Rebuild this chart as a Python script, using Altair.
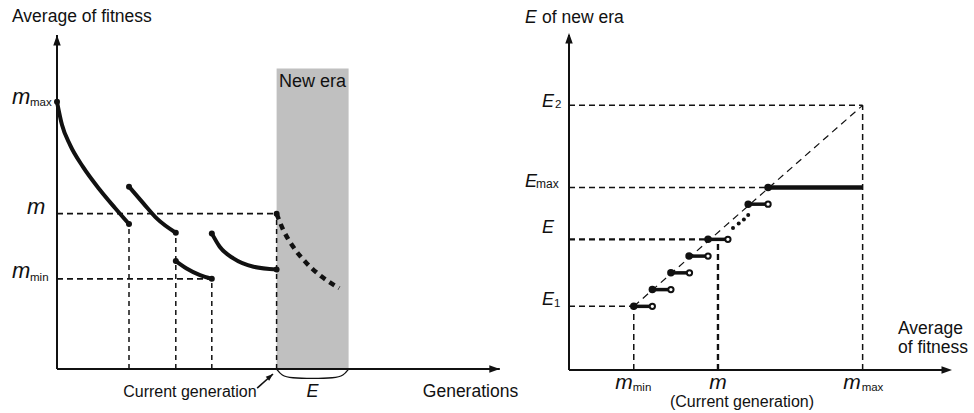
import altair as alt
import pandas as pd

FONT = "Liberation Sans"
INK = "#111111"

# ---------------- left panel: average fitness over generations ----------------
current_gen = 30.5          # generation at which the new era begins
new_era_end = 40.5
gen_axis_end = 61.5
m_max, m_cur, m_min = 0.8, 0.465, 0.27
new_era_top = 0.9

era1_gen = [0, 0.69, 1.81, 3.61, 5.97, 8.06, 10]
era1_fit = [0.8, 0.731, 0.671, 0.605, 0.536, 0.482, 0.434]
era2_gen = [10, 12, 13.85, 16.5]
era2_fit = [0.546, 0.496, 0.451, 0.408]
era3_gen = [16.5, 18, 19.86, 21.5]
era3_fit = [0.323, 0.301, 0.281, 0.27]
era4_gen = [21.5, 22.6, 24.5, 27.3, 30.5]
era4_fit = [0.406, 0.366, 0.331, 0.306, 0.298]
next_gen = [30.5, 31.43, 32.8, 34.7, 36.8, 39.2]
next_fit = [0.465, 0.416, 0.366, 0.316, 0.276, 0.242]

# bracket under the new era
brace_gen = [30.5, 31.2, 32.5, 35.5, 38.5, 39.8, 40.5]
brace_depth = [0, -0.02, -0.027, -0.029, -0.027, -0.02, 0]

# pointer to the current generation
pointer_tail = (27.8, -0.057)
pointer_tip = (30.0, -0.015)

# ---------------- right panel: era length E versus average fitness ----------------
fit_axis_start, fit_axis_end = 0.12, 1.0
E1, E_cur, E_max, E2 = 19, 39, 54.5, 79
E_axis_end = 100

step_E = [19, 24, 29, 34, 39, 49.5]
step_from = [0.27, 0.313, 0.356, 0.398, 0.442, 0.535]
step_to = [0.313, 0.356, 0.399, 0.442, 0.488, 0.581]
gap_fit = [0.4998, 0.513, 0.525, 0.535]
gap_E = [42.4, 43.7, 44.9, 46.3]
emax_from = 0.581

# ---------------- scales ----------------
LX = alt.Scale(domain=[0, gen_axis_end], range=[57, 499.8], zero=False, nice=False)
LY = alt.Scale(domain=[0, 1], range=[369, 35], zero=False, nice=False)
RX = alt.Scale(domain=[fit_axis_start, fit_axis_end], range=[569, 949], zero=False, nice=False)
RY = alt.Scale(domain=[0, E_axis_end], range=[370, 35], zero=False, nice=False)

ARROW = "M0,0L0.75,2.1L-0.75,2.1Z"


def enc(sx, sy, **kw):
    return dict(
        x=alt.X("x:Q", scale=sx, axis=None),
        y=alt.Y("y:Q", scale=sy, axis=None),
        **kw,
    )


def segments(rows, sx, sy, **mark):
    df = pd.DataFrame(rows, columns=["x", "y", "x2", "y2"])
    style = dict(color=INK, strokeWidth=1.5)
    style.update(mark)
    return alt.Chart(df).mark_rule(**style).encode(**enc(sx, sy, x2="x2:Q", y2="y2:Q"))


def arrowheads(rows, sx, sy, size=100):
    df = pd.DataFrame(rows, columns=["x", "y", "a"])
    return alt.Chart(df).mark_point(
        shape=ARROW, filled=True, size=size, color=INK, opacity=1, strokeWidth=0
    ).encode(**enc(sx, sy, angle=alt.Angle("a:Q", scale=None)))


def dots(xs, ys, sx, sy, size=30):
    df = pd.DataFrame({"x": xs, "y": ys})
    return alt.Chart(df).mark_circle(size=size, color=INK, opacity=1).encode(**enc(sx, sy))


def tag(text, x, y, sx, sy, dx=0, dy=0, size=17.5, italic=False, align="left"):
    df = pd.DataFrame({"x": [x], "y": [y], "t": [text]})
    return alt.Chart(df).mark_text(
        align=align, baseline="alphabetic", dx=dx, dy=dy, fontSize=size,
        fontStyle="italic" if italic else "normal", font=FONT, color=INK,
    ).encode(**enc(sx, sy, text="t:N"))


# ---------------- left panel layers ----------------
new_era_band = alt.Chart(
    pd.DataFrame({"x": [current_gen], "x2": [new_era_end], "y": [0], "y2": [new_era_top]})
).mark_rect(color="#c0c0c0").encode(**enc(LX, LY, x2="x2:Q", y2="y2:Q"))

left_h_guides = segments(
    [(0, m_cur, current_gen, m_cur), (0, m_min, era3_gen[-1], m_min)],
    LX, LY, strokeWidth=1.8, strokeDash=[6, 4],
)
left_v_guides = segments(
    [
        (era1_gen[-1], 0, era1_gen[-1], era1_fit[-1]),
        (era2_gen[-1], 0, era2_gen[-1], era2_fit[-1]),
        (era3_gen[-1], 0, era3_gen[-1], era3_fit[-1]),
        (current_gen, 0, current_gen, m_cur),
    ],
    LX, LY, strokeWidth=1.5, strokeDash=[5, 4],
)

eras = []
for i, (g, f) in enumerate([(era1_gen, era1_fit), (era2_gen, era2_fit),
                            (era3_gen, era3_fit), (era4_gen, era4_fit)]):
    eras.append(pd.DataFrame({"x": g, "y": f, "era": i + 1}))
eras_df = pd.concat(eras, ignore_index=True)

era_curves = alt.Chart(eras_df).mark_line(
    interpolate="monotone", strokeWidth=4, color=INK
).encode(**enc(LX, LY, detail="era:N"))

next_curve = alt.Chart(pd.DataFrame({"x": next_gen, "y": next_fit})).mark_line(
    interpolate="monotone", strokeWidth=4.5, color=INK, strokeDash=[6, 5]
).encode(**enc(LX, LY))

end_x, end_y = [], []
for g, f in [(era1_gen, era1_fit), (era2_gen, era2_fit), (era3_gen, era3_fit), (era4_gen, era4_fit)]:
    end_x += [g[0], g[-1]]
    end_y += [f[0], f[-1]]
end_x.append(next_gen[0])
end_y.append(next_fit[0])
era_ends = dots(end_x, end_y, LX, LY, size=36)

brace = alt.Chart(pd.DataFrame({"x": brace_gen, "y": brace_depth})).mark_line(
    interpolate="basis", strokeWidth=1.3, color=INK
).encode(**enc(LX, LY))

left_axes = segments([(0, 0, gen_axis_end, 0), (0, 0, 0, 1.0)], LX, LY, strokeWidth=2)
left_arrows = arrowheads([(0, 1.0, 0), (gen_axis_end, 0, 90)], LX, LY)

pointer = segments([(pointer_tail[0], pointer_tail[1], pointer_tip[0], pointer_tip[1])],
                   LX, LY, strokeWidth=1.6)
pointer_head = arrowheads([(pointer_tip[0], pointer_tip[1], 49)], LX, LY, size=49)

left_text = [
    tag("Average of fitness", 0, 1.0, LX, LY, dx=-45, dy=-13),
    tag("m", 0, m_max, LX, LY, dx=-45, dy=2, size=22, italic=True),
    tag("max", 0, m_max, LX, LY, dx=-27, dy=4.5, size=11.5),
    tag("m", 0, m_cur, LX, LY, dx=-30, dy=0.5, size=22, italic=True),
    tag("m", 0, m_min, LX, LY, dx=-45, dy=-0.5, size=22, italic=True),
    tag("min", 0, m_min, LX, LY, dx=-27, dy=2, size=11.5),
    tag("New era", (current_gen + new_era_end) / 2, new_era_top, LX, LY, dy=19, size=18,
        align="center"),
    tag("E", (current_gen + new_era_end) / 2, 0, LX, LY, dy=28, size=18, italic=True,
        align="center"),
    tag("Current generation", current_gen, 0, LX, LY, dx=-20, dy=28, size=16, align="right"),
    tag("Generations", gen_axis_end, 0, LX, LY, dx=-77, dy=28),
]

left = alt.layer(
    new_era_band, left_h_guides, left_v_guides, era_curves, next_curve, era_ends,
    brace, left_axes, left_arrows, pointer, pointer_head, *left_text,
)

# ---------------- right panel layers ----------------
right_thin_guides = segments(
    [
        (fit_axis_start, E2, m_max, E2),
        (m_max, 0, m_max, E2),
        (fit_axis_start, E_max, emax_from, E_max),
        (fit_axis_start, E1, m_min, E1),
        (m_min, 0, m_min, E1),
    ],
    RX, RY, strokeWidth=1.5, strokeDash=[6, 4],
)
right_thick_guides = segments(
    [(fit_axis_start, E_cur, step_from[4], E_cur), (m_cur, 0, m_cur, E_cur)],
    RX, RY, strokeWidth=2.4, strokeDash=[6, 4],
)
diagonal = segments([(m_min, E1, m_max, E2)], RX, RY, strokeWidth=1.2, strokeDash=[7, 5])

steps = segments(
    [(a, e, b, e) for a, e, b in zip(step_from, step_E, step_to)],
    RX, RY, strokeWidth=3.5,
)
emax_bar = segments([(emax_from, E_max, m_max, E_max)], RX, RY, strokeWidth=4.5)

step_closed = dots(step_from + [emax_from], step_E + [E_max], RX, RY, size=56)
step_open = alt.Chart(pd.DataFrame({"x": step_to, "y": step_E})).mark_point(
    shape="circle", size=28, fill="white", fillOpacity=1, stroke=INK, strokeWidth=2, opacity=1
).encode(**enc(RX, RY))
gap_dots = dots(gap_fit, gap_E, RX, RY, size=16)

right_axes = segments(
    [(fit_axis_start, 0, fit_axis_end, 0), (fit_axis_start, 0, fit_axis_start, E_axis_end)],
    RX, RY, strokeWidth=2,
)
right_arrows = arrowheads(
    [(fit_axis_start, E_axis_end + 0.6, 0), (fit_axis_end + 0.007, 0, 90)], RX, RY
)

right_text = [
    tag("E", fit_axis_start, E_axis_end, RX, RY, dx=-44, dy=-12, italic=True),
    tag("of new era", fit_axis_start, E_axis_end, RX, RY, dx=-27, dy=-12),
    tag("E", fit_axis_start, E2, RX, RY, dx=-27, dy=1.5, size=18, italic=True),
    tag("2", fit_axis_start, E2, RX, RY, dx=-14, dy=3, size=11.5),
    tag("E", fit_axis_start, E_max, RX, RY, dx=-44, dy=0, size=18, italic=True),
    tag("max", fit_axis_start, E_max, RX, RY, dx=-33, dy=1, size=12),
    tag("E", fit_axis_start, E_cur, RX, RY, dx=-27, dy=-6, size=18, italic=True),
    tag("E", fit_axis_start, E1, RX, RY, dx=-27, dy=-1, size=18, italic=True),
    tag("1", fit_axis_start, E1, RX, RY, dx=-15, dy=0.5, size=11.5),
    tag("m", m_min, 0, RX, RY, dx=-1, dy=19, size=21, italic=True, align="right"),
    tag("min", m_min, 0, RX, RY, dx=-1, dy=20.5, size=11.5),
    tag("m", m_cur, 0, RX, RY, dy=19, size=21, italic=True, align="center"),
    tag("m", m_max, 0, RX, RY, dx=-2, dy=19, size=21, italic=True, align="right"),
    tag("max", m_max, 0, RX, RY, dx=-1, dy=20.5, size=11.5),
    tag("(Current generation)", m_cur, 0, RX, RY, dx=24, dy=37, size=16, align="center"),
    tag("Average", fit_axis_end, 0, RX, RY, dx=-51, dy=-36),
    tag("of fitness", fit_axis_end, 0, RX, RY, dx=-51, dy=-17),
]

right = alt.layer(
    right_thin_guides, right_thick_guides, diagonal, steps, emax_bar, gap_dots,
    step_closed, step_open, right_axes, right_arrows, *right_text,
)

chart = (
    alt.layer(left, right)
    .resolve_scale(x="independent", y="independent")
    .properties(width=974, height=413, padding=0, autosize=alt.AutoSizeParams(type="none"),
                background="white")
    .configure_view(strokeWidth=0)
)

chart.save("out.html", embed_options={"renderer": "svg", "actions": False})
